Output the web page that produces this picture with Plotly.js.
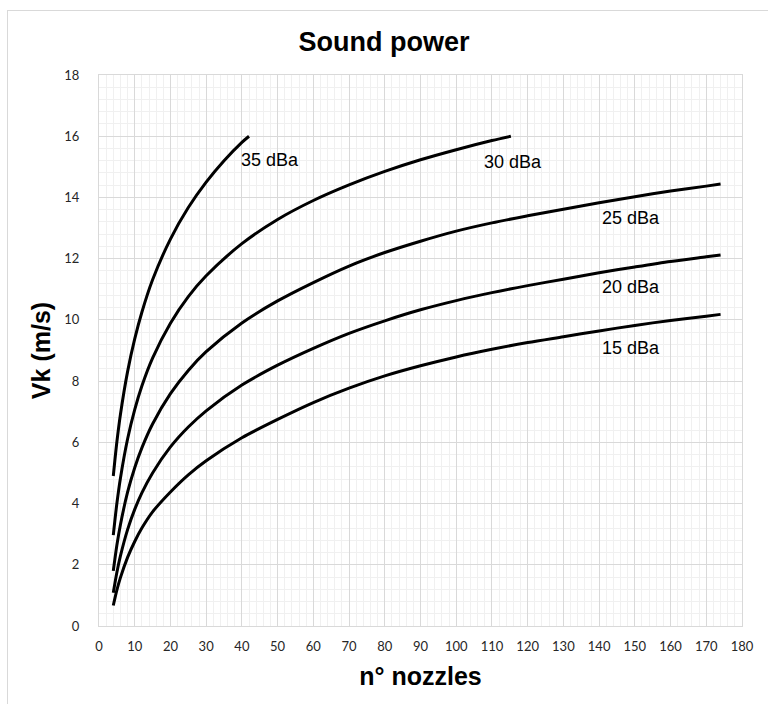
<!DOCTYPE html>
<html>
<head>
<meta charset="utf-8">
<script src="https://cdn.plot.ly/plotly-3.0.1.min.js"></script>
<style>
html,body{margin:0;padding:0;background:#fff;overflow:hidden;}
#chart{width:768px;height:704px;}
#frame{position:absolute;left:7px;top:10px;width:900px;height:900px;border-left:1px solid #d9d9d9;border-top:1px solid #d9d9d9;pointer-events:none;}
</style>
</head>
<body>
<div id="chart"></div>
<div id="frame"></div>
<script>
// n° nozzles and Vk (m/s) per sound power level
const n35 = [4, 5, 6, 8, 10, 12, 15, 20, 25, 30, 35, 40, 42];
const v35 = [4.9, 6.01, 6.91, 8.31, 9.38, 10.25, 11.31, 12.64, 13.67, 14.5, 15.2, 15.8, 16.0];

const n30 = [4, 5, 6, 8, 10, 12, 15, 20, 25, 30, 40, 50, 60, 70, 80, 90, 100, 110, 115.3];
const v30 = [2.97, 4.0, 4.83, 6.11, 7.07, 7.84, 8.75, 9.89, 10.76, 11.44, 12.49, 13.28, 13.9, 14.41, 14.85, 15.23, 15.56, 15.86, 16.0];

const n25 = [4, 5, 6, 8, 10, 12, 15, 20, 25, 30, 40, 50, 60, 70, 80, 90, 100, 110, 120, 130, 140, 150, 160, 170, 174];
const v25 = [1.8, 2.64, 3.31, 4.37, 5.17, 5.82, 6.6, 7.59, 8.35, 8.96, 9.9, 10.62, 11.22, 11.76, 12.2, 12.57, 12.9, 13.17, 13.4, 13.615, 13.825, 14.025, 14.21, 14.37, 14.44];

const n20 = [4, 5, 6, 8, 10, 12, 15, 20, 25, 30, 40, 50, 60, 70, 80, 90, 100, 110, 120, 130, 140, 150, 160, 170, 174];
const v20 = [1.09, 1.75, 2.29, 3.15, 3.81, 4.35, 5.0, 5.85, 6.5, 7.03, 7.87, 8.52, 9.07, 9.56, 9.97, 10.33, 10.63, 10.89, 11.12, 11.33, 11.54, 11.73, 11.91, 12.06, 12.12];

const n15 = [4, 5, 6, 8, 10, 12, 15, 20, 25, 30, 40, 50, 60, 70, 80, 90, 100, 110, 120, 130, 140, 150, 160, 170, 174];
const v15 = [0.67, 1.17, 1.58, 2.24, 2.76, 3.2, 3.73, 4.38, 4.94, 5.4, 6.15, 6.75, 7.3, 7.77, 8.17, 8.5, 8.79, 9.04, 9.26, 9.45, 9.64, 9.82, 9.98, 10.12, 10.18];

const curveNames = ["35 dBa", "30 dBa", "25 dBa", "20 dBa", "15 dBa"];
const labelX = [39.2, 107.2, 140.3, 140.3, 140.3];
const labelY = [15.22, 15.16, 13.33, 11.07, 9.08];

const xs = [n35, n30, n25, n20, n15];
const ys = [v35, v30, v25, v20, v15];

const traces = xs.map((x, i) => ({
  x: x, y: ys[i], name: curveNames[i], type: "scatter", mode: "lines",
  line: {color: "#000000", width: 3, shape: "spline", smoothing: 0.8},
  hoverinfo: "skip"
}));

const annotations = curveNames.map((t, i) => ({
  x: labelX[i], y: labelY[i], xref: "x", yref: "y", text: t, showarrow: false,
  xanchor: "left", yanchor: "middle",
  font: {family: "Liberation Sans, Arial, sans-serif", size: 18, color: "#000000"}
}));

const tickFont = {family: "Lato, Calibri, sans-serif", size: 13, color: "#262626"};
const titleFamily = "Liberation Sans, Arial, sans-serif";

const layout = {
  width: 768, height: 704,
  margin: {l: 99, r: 26, t: 75, b: 78},
  paper_bgcolor: "#ffffff", plot_bgcolor: "#ffffff",
  showlegend: false,
  title: {
    text: "Sound power", x: 0.5, xref: "container", xanchor: "center",
    y: 1 - 42 / 704, yref: "container", yanchor: "middle",
    font: {family: titleFamily, size: 27, color: "#000000", weight: "bold"}
  },
  xaxis: {
    range: [0, 180], dtick: 10, tick0: 0, fixedrange: true,
    showgrid: true, gridcolor: "#d9d9d9", gridwidth: 1,
    minor: {dtick: 2, showgrid: true, gridcolor: "#f0f0f0", gridwidth: 1},
    showline: true, linecolor: "#d9d9d9", linewidth: 1, mirror: true,
    zeroline: false, ticks: "", tickfont: tickFont, ticklabelstandoff: 8,
    title: {text: "n° nozzles", standoff: 14,
      font: {family: titleFamily, size: 25, color: "#000000", weight: "bold"}}
  },
  yaxis: {
    range: [0, 18], dtick: 2, tick0: 0, fixedrange: true,
    showgrid: true, gridcolor: "#d9d9d9", gridwidth: 1,
    minor: {dtick: 0.4, showgrid: true, gridcolor: "#f0f0f0", gridwidth: 1},
    showline: true, linecolor: "#d9d9d9", linewidth: 1, mirror: true,
    zeroline: false, ticks: "", tickfont: tickFont, ticklabelstandoff: 16,
    title: {text: "Vk (m/s)", standoff: 6,
      font: {family: titleFamily, size: 25, color: "#000000", weight: "bold"}}
  },
  annotations: annotations
};

Plotly.newPlot("chart", traces, layout, {staticPlot: true, displayModeBar: false});
</script>
</body>
</html>
